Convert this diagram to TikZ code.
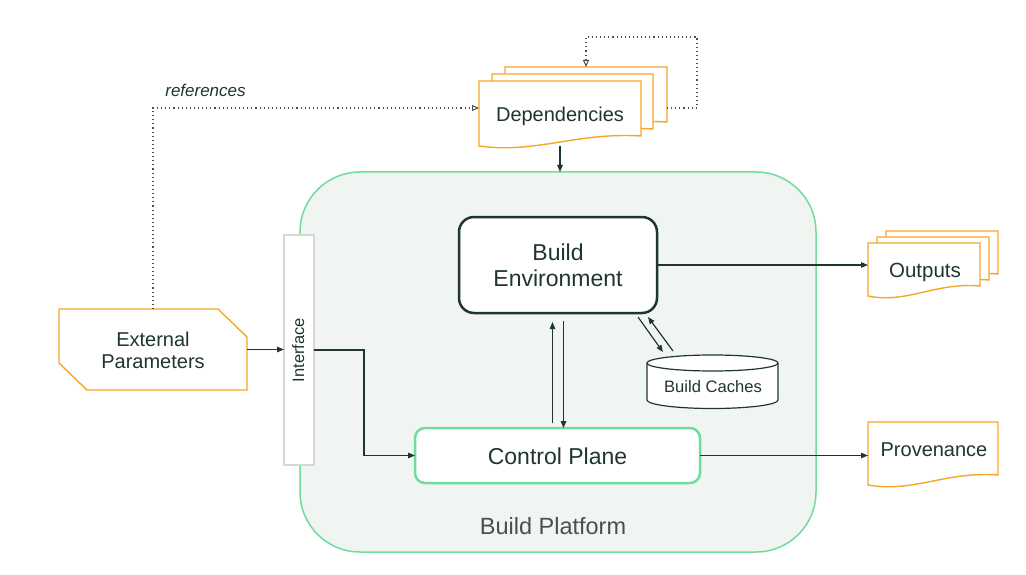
\documentclass[tikz,border=0pt]{standalone}
\usepackage{fontspec}
\setmainfont{Liberation Sans}
\usetikzlibrary{arrows.meta,calc}
\definecolor{ink}{RGB}{31,53,50}
\definecolor{orng}{RGB}{247,166,40}
\definecolor{grn}{RGB}{112,219,156}
\definecolor{platfill}{RGB}{240,245,241}
\definecolor{ifgray}{RGB}{214,214,214}
\definecolor{lblgray}{RGB}{77,77,77}
\definecolor{dotgray}{RGB}{70,80,80}
\newcommand\docshape[4]{% x1, ytop, x2, ybottom-left, right bottom is 10 up
  \filldraw[docline] (#1,#2) -- (#3,#2) -- (#3,{#4-10})
    .. controls ({#1+0.6*(#3-#1)},{#4-14}) and ({#1+0.35*(#3-#1)},{#4+8}) .. (#1,#4) -- cycle;}
\begin{document}
\begin{tikzpicture}[x=1pt,y=-1pt,
  txt/.style={text=ink,inner sep=0pt},
  frame/.style={draw=none,inner sep=0pt,outer sep=0pt},
  docline/.style={draw=orng,fill=white,line width=1.4pt,line join=miter},
  arr/.style={draw=ink,line width=1.2pt,-{Triangle[length=7pt,width=5.5pt]}},
  dotarr/.style={draw=dotgray,line width=1.1pt,dash pattern=on 1.1pt off 3pt,
     -{Triangle[open,length=7pt,width=6pt,line width=1pt]}},
  dotline/.style={draw=dotgray,line width=1.1pt,dash pattern=on 1.1pt off 3pt}]
\useasboundingbox (0,0) rectangle (1026,575);

% Build platform
\node[frame,draw=grn,fill=platfill,line width=1.5pt,rounded corners=60pt,
  minimum width=516pt,minimum height=380pt] (plat) at (558,362) {};
\node[txt,anchor=base,text=lblgray,font=\fontsize{23.5}{26}\selectfont] (platT) at (553,534) {Build Platform};

% Interface
\node[frame,draw=ifgray,fill=white,line width=1.5pt,minimum width=30pt,minimum height=230pt] (iface) at (299,350) {};
\node[txt,rotate=90,anchor=base,font=\fontsize{16.5}{18}\selectfont] (ifaceT) at (304,350) {Interface};

% Build environment
\node[frame,draw=ink,fill=white,line width=2.5pt,rounded corners=15pt,
  minimum width=198pt,minimum height=96pt] (be) at (558,265) {};
\node[txt,align=center,font=\fontsize{23}{26}\selectfont] (beT) at (558,265) {Build\\Environment};

% Control plane
\node[frame,draw=grn,fill=white,line width=2.5pt,rounded corners=10pt,
  minimum width=285pt,minimum height=55pt] (cp) at (557.5,455.5) {};
\node[txt,anchor=base,font=\fontsize{23}{26}\selectfont] (cpT) at (557.5,464) {Control Plane};

% Build caches (cylinder)
\filldraw[draw=ink,fill=white,line width=1.2pt]
  (647,363) -- (647,400) arc[start angle=180,end angle=360,x radius=65.5pt,y radius=8.5pt]
  -- (778,363) arc[start angle=0,end angle=180,x radius=65.5pt,y radius=8pt] -- cycle;
\draw[ink,line width=1.2pt] (647,363) arc[start angle=180,end angle=360,x radius=65.5pt,y radius=8pt];
\node[frame,minimum width=131pt,minimum height=54pt] (cache) at (712.5,382) {};
\node[txt,anchor=base,font=\fontsize{16.6}{18}\selectfont] (cacheT) at (713,392) {Build Caches};

% External parameters
\node[frame,minimum width=188pt,minimum height=81pt] (ext) at (153,349.5) {};
\filldraw[docline] (ext.north west) -- ([xshift=-29pt]ext.north east) -- ([yshift=-28pt]ext.north east)
  -- (ext.south east) -- ([xshift=28pt]ext.south west) -- ([yshift=27pt]ext.south west) -- cycle;
\node[txt,align=center,font=\fontsize{20}{22}\selectfont] (extT) at (153,350) {External\\Parameters};

% Dependencies stack
\docshape{505}{67}{667}{132}
\docshape{492}{74}{653}{139}
\docshape{479}{81}{641}{146}
\node[frame,minimum width=162pt,minimum height=65pt] (dep3) at (586,99.5) {};
\node[frame,minimum width=162pt,minimum height=65pt] (dep) at (560,113.5) {};
\node[txt,anchor=base,font=\fontsize{20}{22}\selectfont] (depT) at (560,122) {Dependencies};

% Outputs stack
\docshape{886}{231}{998}{284}
\docshape{877}{237}{989}{290}
\docshape{868}{243}{980}{296}
\node[frame,minimum width=112pt,minimum height=53pt] (out) at (924,269.5) {};
\node[txt,anchor=base,font=\fontsize{20.5}{22}\selectfont] (outT) at (925,277) {Outputs};

% Provenance
\docshape{868}{422}{998}{485}
\node[frame,minimum width=130pt,minimum height=63pt] (prov) at (933,453.5) {};
\node[txt,anchor=base,font=\fontsize{20}{22}\selectfont] (provT) at (934,456) {Provenance};

% references label
\node[txt,anchor=base,font=\fontsize{17}{19}\selectfont\itshape] (refT) at (205.5,97) {references};

% Connectors
\coordinate (loopR) at (697,37);
\draw[dotarr] (ext.north) |- ([yshift=5.5pt]dep.west);
\draw[dotarr] ([yshift=-8.5pt]dep3.east) -| (loopR) -| (dep3.north);
\draw[arr] (dep.south) -- (dep.south |- plat.north);
\draw[arr] (be.east) -- (be.east -| out.west);
\draw[arr] (cp.east) -- (cp.east -| prov.west);
\draw[arr] (ext.east) -- (ext.east -| iface.west);
\coordinate (bend) at (364,350);
\draw[arr] (iface.east |- bend) -- (bend) |- (cp.west);
\coordinate (upS) at (552.5,423);
\coordinate (dnS) at (563.5,321);
\draw[arr] (upS) -- (upS |- {(0,322)});
\draw[arr] (dnS) -- (dnS |- cp.north);
\coordinate (c1s) at (638,317);
\coordinate (c1e) at (663,352);
\coordinate (c2s) at (673,351);
\coordinate (c2e) at (648,317);
\draw[arr] (c1s) -- (c1e);
\draw[arr] (c2s) -- (c2e);
\end{tikzpicture}
\end{document}
